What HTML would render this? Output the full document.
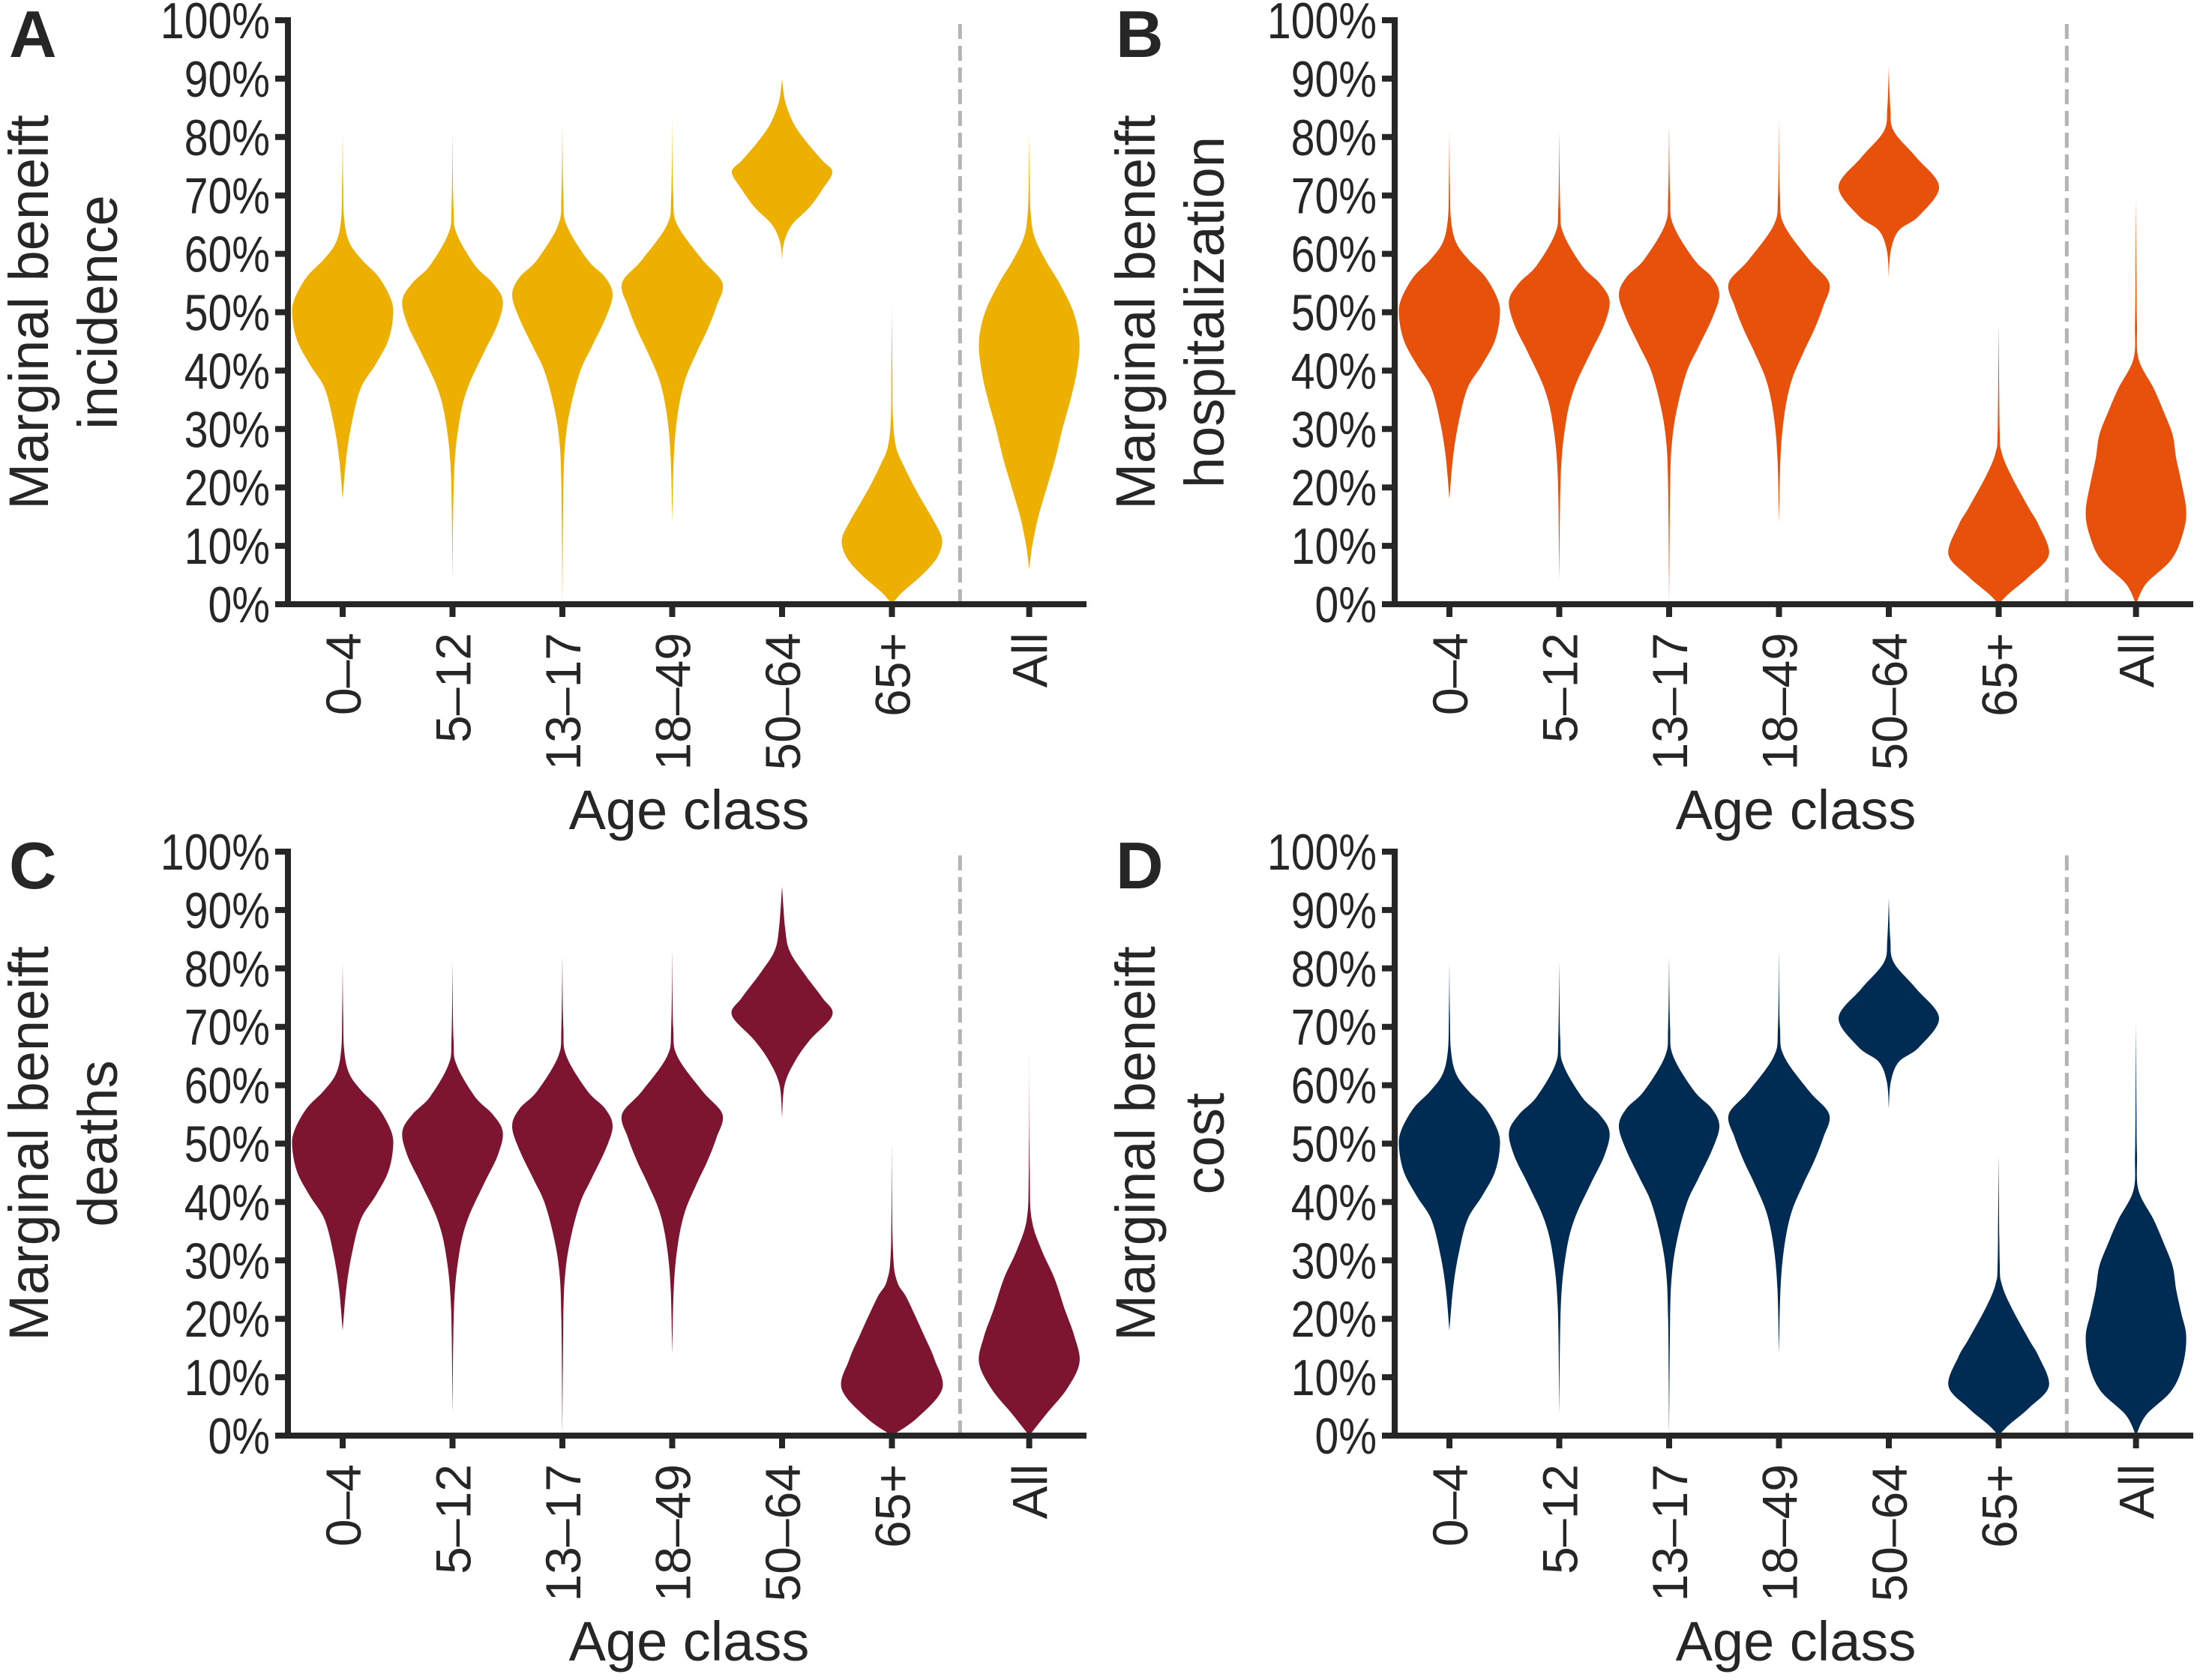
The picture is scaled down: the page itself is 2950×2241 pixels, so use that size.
<!DOCTYPE html>
<html><head><meta charset="utf-8">
<style>
html,body{margin:0;padding:0;background:#fff;}
svg{display:block;}
text{font-family:"Liberation Sans",Arial,sans-serif;fill:#262626;}
</style></head>
<body>
<svg id="fig" width="2950" height="2241" viewBox="0 0 2950 2241" xmlns="http://www.w3.org/2000/svg"></svg>
<script>
// ---- data ----
const categories = ["0–4","5–12","13–17","18–49","50–64","65+","All"];
const yTicks = [0,10,20,30,40,50,60,70,80,90,100];
const yTickLabels = ["0%","10%","20%","30%","40%","50%","60%","70%","80%","90%","100%"];
const panelLetters = ["A","B","C","D"];
const panelMetrics = ["incidence","hospitalization","deaths","cost"];
const panelColors = ["#EDAF00","#E8510C","#7E1530","#002B52"];

// violin profiles: [value %, relative half-width]
const young04 = [[18,0],[25,.07],[31,.18],[37,.36],[41,.65],[45,.9],[49,1],[52,.97],[56,.72],[59,.38],[62,.13],[66,.03],[72,.01],[81,0]];
const young512 = [[4,0],[22,.03],[31,.13],[37,.3],[43,.62],[48,.9],[52,1],[55,.8],[58,.45],[63.5,.08],[68,.02],[81,0]];
const young1317 = [[0,0],[20,.02],[28,.06],[34,.17],[40,.36],[44,.58],[49,.86],[53,1],[56,.85],[59,.5],[65,.08],[70,.02],[82,0]];
const young1849 = [[14,0],[25,.03],[32,.1],[38,.24],[43,.48],[47,.7],[51,.88],[55,1],[59,.6],[65,.1],[70,.02],[83,0]];

const incidenceValues = [young04, young512, young1317, young1849,
  [[59,0],[62,.04],[65,.2],[68,.55],[71,.8],[74,1],[76,.8],[79,.5],[82,.25],[85,.1],[87,.04],[90,0]],
  [[0,0],[2,.2],[5,.6],[8,.9],[11,1],[14,.85],[17,.65],[20,.45],[24,.22],[27,.08],[32,.02],[40,.01],[51,0]],
  [[6,0],[10,.06],[15,.18],[20,.35],[25,.52],[30,.66],[35,.82],[40,.95],[45,1],[50,.88],[55,.6],[59,.32],[63,.1],[67,.03],[72,.01],[81,0]]];
const hospitalizationValues = [young04, young512, young1317, young1849,
  [[56,0],[60.6,.04],[64,.2],[66.5,.6],[71.5,1],[76.5,.55],[81,.1],[85,.03],[92,0]],
  [[0,0],[1.8,.2],[4.7,.6],[8.5,1],[13.5,.8],[16.5,.6],[22,.25],[26,.06],[30,.02],[48,0]],
  [[0,0],[3.5,.2],[7.6,.7],[12,.93],[16,1],[21,.9],[25,.8],[29,.73],[33,.55],[37,.35],[42,.05],[48,.02],[55,.01],[70,0]]];
const deathsValues = [young04, young512, young1317, young1849,
  [[54.6,0],[60,.05],[64,.25],[67.7,.55],[72,1],[75,.8],[79,.45],[83,.15],[87,.06],[94,0]],
  [[0,0],[3,.5],[8,1],[13,.85],[17,.65],[23.5,.3],[26.5,.1],[32,.02],[50,0]],
  [[0,0],[3.8,.35],[8,.75],[12.5,1],[17,.9],[21.8,.7],[27,.5],[31.7,.25],[37,.05],[45,.01],[66,0]]];
const costValues = [young04, young512, young1317, young1849,
  [[56,0],[60.6,.04],[64,.2],[66.5,.6],[71.5,1],[76.5,.55],[81,.1],[85,.03],[92,0]],
  [[0,0],[1.8,.2],[4.7,.6],[8.5,1],[13.5,.8],[16.5,.6],[22,.25],[26,.06],[30,.02],[48,0]],
  [[0,0],[3.5,.2],[7.6,.7],[12,.93],[17,1],[21,.9],[25,.8],[29,.73],[33,.55],[37,.35],[42,.05],[48,.02],[55,.01],[71,0]]];
const panelValues = [incidenceValues, hospitalizationValues, deathsValues, costValues];

// ---- layout ----
const NS = "http://www.w3.org/2000/svg";
const svg = document.getElementById("fig");
const origins = [[384,806],[1860,806],[384,1915],[1860,1915]];
const catPos = [0,1,2,3,4,5,6.25];
const dividerPos = 5.62;
const tickStep = 146.5, firstTick = 73, plotH = 779, axisLen = 1065, maxHalf = 67;

function mk(tag, attrs, parent){ const e=document.createElementNS(NS,tag); for(const k in attrs) e.setAttribute(k,attrs[k]); (parent||svg).appendChild(e); return e; }

function smoothPath(pts){
  let d = "M"+pts[0][0]+","+pts[0][1];
  for(let i=0;i<pts.length-1;i++){
    const p0=pts[Math.max(0,i-1)], p1=pts[i], p2=pts[i+1], p3=pts[Math.min(pts.length-1,i+2)];
    const c1=[p1[0]+(p2[0]-p0[0])/6, p1[1]+(p2[1]-p0[1])/6];
    const c2=[p2[0]-(p3[0]-p1[0])/6, p2[1]-(p3[1]-p1[1])/6];
    d += " C"+c1[0].toFixed(1)+","+c1[1].toFixed(1)+" "+c2[0].toFixed(1)+","+c2[1].toFixed(1)+" "+p2[0].toFixed(1)+","+p2[1].toFixed(1);
  }
  return d;
}

panelLetters.forEach((letter, p) => {
  const [ox, oy] = origins[p];
  const xS = i => ox + firstTick + catPos[i]*tickStep;
  const yS = v => oy - v/100*plotH;
  const g = mk("g", {});
  
  

  panelValues[p].forEach((prof, i) => {
    const cx = xS(i);
    const right = prof.map(([v,w]) => [cx + w*maxHalf, yS(v)]);
    const left = prof.slice().reverse().map(([v,w]) => [cx - w*maxHalf, yS(v)]);
    const d = smoothPath(right) + " L" + smoothPath(left).slice(1) + " Z";
    const path = mk("path", {d:d, fill:panelColors[p]}, g);
    
    
  });

  const dx = ox+firstTick+dividerPos*tickStep;
  const dv = mk("line", {x1:dx, x2:dx, y1:oy, y2:yS(100), stroke:"#b4b4b4", "stroke-width":5, "stroke-dasharray":"20,9"}, g);
  
  

  const ya = mk("line", {x1:ox, x2:ox, y1:oy+4, y2:yS(100)-4, stroke:"#262626", "stroke-width":8}, g);
  
  
  const xa = mk("line", {x1:ox-17, x2:ox+axisLen, y1:oy, y2:oy, stroke:"#262626", "stroke-width":8}, g);
  
  

  yTicks.forEach((v, k) => {
    const t = mk("line", {x1:ox-17, x2:ox, y1:yS(v), y2:yS(v), stroke:"#262626", "stroke-width":8}, g);
    
    
    const lb = mk("text", {x:0, y:0, "text-anchor":"end", "font-size":68, transform:"translate("+(ox-24)+","+(yS(v)+24)+") scale(0.84,1)"}, g);
    lb.textContent = yTickLabels[k];
    
    
  });

  categories.forEach((c, i) => {
    const x = xS(i);
    const t = mk("line", {x1:x, x2:x, y1:oy, y2:oy+17, stroke:"#262626", "stroke-width":8}, g);
    
    
    const lb = mk("text", {x:0, y:0, "text-anchor":"end", "font-size":66, transform:"translate("+(x+24)+","+(oy+38)+") rotate(-90)"}, g);
    lb.textContent = c;
    
    
  });

  const xt = mk("text", {x:ox+535, y:oy+300, "text-anchor":"middle", "font-size":74}, g);
  xt.textContent = "Age class";
  
  

  const cy = (oy + yS(100))/2;
  const y1 = mk("text", {x:ox-320, y:cy, "text-anchor":"middle", "font-size":74, transform:"rotate(-90 "+(ox-320)+" "+cy+")"}, g);
  y1.textContent = "Marginal beneift";
  
  
  const y2 = mk("text", {x:ox-228, y:cy, "text-anchor":"middle", "font-size":74, transform:"rotate(-90 "+(ox-228)+" "+cy+")"}, g);
  y2.textContent = panelMetrics[p];
  
  

  const pl = mk("text", {x:ox-372, y:oy-730, "font-size":88, "font-weight":"bold", fill:"#000"}, g);
  pl.textContent = letter;
  
  
});
</script>
</body></html>
